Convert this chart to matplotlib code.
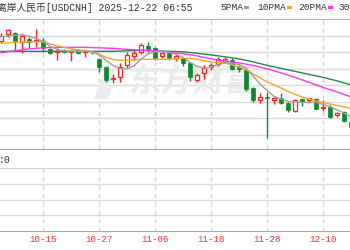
import numpy as np
import matplotlib
matplotlib.use("Agg")
import matplotlib.pyplot as plt
from matplotlib.patches import Rectangle, Polygon

# one candle per trading day, 10-07 .. 12-16 (x = 0 is 10-15)
days = ['10-07', '10-08', '10-09', '10-10', '10-13', '10-14', '10-15', '10-16', '10-17',
        '10-20', '10-21', '10-22', '10-23', '10-24', '10-27', '10-28', '10-29', '10-30',
        '10-31', '11-03', '11-04', '11-05', '11-06', '11-07', '11-10', '11-11', '11-12',
        '11-13', '11-14', '11-17', '11-18', '11-19', '11-20', '11-21', '11-24', '11-25',
        '11-26', '11-27', '11-28', '12-01', '12-02', '12-03', '12-04', '12-05', '12-08',
        '12-09', '12-10', '12-11', '12-12', '12-15', '12-16']
opens = [7.1336, 7.1417, 7.1433, 7.1320, 7.1357, 7.1336, 7.1336, 7.1235, 7.1197, 7.1219,
         7.1197, 7.1219, 7.1199, 7.1203, 7.1114, 7.1025, 7.0875, 7.0903, 7.1045, 7.1158,
         7.1199, 7.1275, 7.1248, 7.1158, 7.1187, 7.1134, 7.1126, 7.1066, 7.0863, 7.0948,
         7.1017, 7.1057, 7.1094, 7.1100, 7.1025, 7.0985, 7.0763, 7.0621, 7.0661, 7.0625,
         7.0642, 7.0581, 7.0488, 7.0633, 7.0621, 7.0633, 7.0520, 7.0540, 7.0439, 7.0472,
         7.0358]
closes = [7.1400, 7.1461, 7.1336, 7.1400, 7.1320, 7.1348, 7.1248, 7.1187, 7.1209, 7.1199,
          7.1209, 7.1187, 7.1211, 7.1195, 7.1025, 7.0863, 7.0891, 7.1025, 7.1166, 7.1194,
          7.1288, 7.1235, 7.1134, 7.1187, 7.1134, 7.1154, 7.1066, 7.0894, 7.0924, 7.1003,
          7.1039, 7.1112, 7.1112, 7.0991, 7.0997, 7.0754, 7.0621, 7.0661, 7.0642, 7.0642,
          7.0585, 7.0500, 7.0621, 7.0600, 7.0642, 7.0512, 7.0540, 7.0419, 7.0460, 7.0366,
          7.0297]
highs = [7.1429, 7.1482, 7.1445, 7.1433, 7.1388, 7.1482, 7.1369, 7.1255, 7.1251, 7.1239,
         7.1215, 7.1235, 7.1227, 7.1215, 7.1134, 7.1033, 7.0932, 7.1066, 7.1206, 7.1235,
         7.1308, 7.1320, 7.1267, 7.1206, 7.1215, 7.1187, 7.1146, 7.1085, 7.0945, 7.1045,
         7.1073, 7.1142, 7.1142, 7.1130, 7.1045, 7.1005, 7.0782, 7.0702, 7.0714, 7.0661,
         7.0702, 7.0600, 7.0633, 7.0649, 7.0649, 7.0649, 7.0621, 7.0560, 7.0479, 7.0488,
         7.0378]
lows = [7.1308, 7.1388, 7.1227, 7.1191, 7.1255, 7.1267, 7.1206, 7.1175, 7.1106, 7.1187,
        7.1094, 7.1175, 7.1146, 7.1179, 7.0964, 7.0843, 7.0823, 7.0843, 7.1005, 7.1106,
        7.1175, 7.1206, 7.1106, 7.1134, 7.1106, 7.1094, 7.1037, 7.0845, 7.0839, 7.0875,
        7.0985, 7.1033, 7.1066, 7.0979, 7.0964, 7.0730, 7.0600, 7.0581, 7.0157, 7.0569,
        7.0569, 7.0479, 7.0479, 7.0552, 7.0581, 7.0506, 7.0488, 7.0406, 7.0419, 7.0351,
        7.0282]
ma5 = [7.1388, 7.1393, 7.1403, 7.1409, 7.1391, 7.1366, 7.1328, 7.1269, 7.1233, 7.1215,
       7.1209, 7.1209, 7.1209, 7.1203, 7.1166, 7.1100, 7.1039, 7.0997, 7.0997, 7.1033,
       7.1112, 7.1179, 7.1203, 7.1209, 7.1197, 7.1172, 7.1136, 7.1075, 7.1027, 7.1003,
       7.1015, 7.1051, 7.1069, 7.1057, 7.1051, 7.1003, 7.0912, 7.0815, 7.0736, 7.0663,
       7.0633, 7.0603, 7.0597, 7.0591, 7.0591, 7.0591, 7.0566, 7.0542, 7.0500, 7.0463,
       7.0415]
ma10 = [7.1308, 7.1312, 7.1318, 7.1320, 7.1324, 7.1326, 7.1324, 7.1300, 7.1275, 7.1257,
        7.1239, 7.1227, 7.1215, 7.1203, 7.1179, 7.1136, 7.1112, 7.1100, 7.1100, 7.1106,
        7.1112, 7.1112, 7.1112, 7.1112, 7.1114, 7.1118, 7.1124, 7.1124, 7.1112, 7.1094,
        7.1081, 7.1075, 7.1069, 7.1045, 7.1021, 7.0985, 7.0936, 7.0888, 7.0839, 7.0803,
        7.0766, 7.0724, 7.0688, 7.0657, 7.0633, 7.0609, 7.0591, 7.0572, 7.0554, 7.0536,
        7.0518]
# 20 / 30 day lines read every second day
ma20 = [7.1191, 7.1215, 7.1239, 7.1251, 7.1257, 7.1257, 7.1257, 7.1251, 7.1245, 7.1233,
        7.1223, 7.1215, 7.1197, 7.1179, 7.1154, 7.1118, 7.1088, 7.1069, 7.1039, 7.0997,
        7.0948, 7.0894, 7.0833, 7.0772, 7.0718, 7.0657]
ma30 = [7.1209, 7.1209, 7.1209, 7.1209, 7.1209, 7.1209, 7.1209, 7.1209, 7.1209, 7.1215,
        7.1221, 7.1215, 7.1209, 7.1203, 7.1185, 7.1166, 7.1142, 7.1118, 7.1081, 7.1039,
        7.1003, 7.0966, 7.0930, 7.0894, 7.0851, 7.0803]
tick_labels = ['10-03', '10-15', '10-27', '11-06', '11-18', '11-28', '12-10']
tick_x = [-8, 0, 8, 16, 24, 32, 40]

UP = '#ff2020'
DOWN = '#0e8a2a'
mono_cjk = ['Liberation Mono', 'Noto Sans CJK SC']

x = np.arange(len(days)) - 6
x2 = x[::2]
xlim = (-43 / 7, 307 / 7)

fig = plt.figure(figsize=(3.5, 2.5), dpi=100)
ax = fig.add_axes([0, 0.404, 1, 0.52])
axv = fig.add_axes([0, 0.076, 1, 0.252])

for a in (ax, axv):
    a.set_xlim(*xlim)
    a.set_axisbelow(True)
    a.set_xticks([])
    a.tick_params(length=0, labelleft=False, labelbottom=False)
    a.spines['left'].set_visible(False)
    a.spines['right'].set_visible(False)
    a.spines['bottom'].set_color('#a8a8a8')
    for t in tick_x:
        a.axvline(t, color='#d4d4d4', lw=1, ls=(0, (3, 3)), zorder=0.5)

ax.set_ylim(7.0027, 7.16)
ax.set_yticks([7.02, 7.04, 7.06, 7.08, 7.10, 7.12, 7.14])
ax.grid(axis='y', color='#dadada', lw=1)
ax.spines['top'].set_color('#b4b4b4')

axv.set_ylim(0, 4)
axv.set_yticks([1, 2, 3])
axv.grid(axis='y', color='#dadada', lw=1)
axv.spines['top'].set_color('#d6d6d6')
# date labels under the lower panel, the first one runs off the left edge
for t, lab in zip(tick_x, tick_labels):
    axv.text(t, -9 / 63, lab, transform=axv.get_xaxis_transform(), ha='center',
             va='center', fontsize=6.6, color='#ff3030', family='Liberation Mono',
             clip_on=False)

# watermark (logo swoosh + name)
fx = lambda px: px / 350
fy = lambda py: 1 - py / 250
ax.add_patch(Polygon([(fx(94), fy(99)), (fx(104), fy(71)), (fx(116), fy(69)), (fx(107), fy(88)),
                      (fx(113), fy(86)), (fx(108), fy(99))], closed=True,
                     transform=fig.transFigure, facecolor='#ededed', edgecolor='none', zorder=0.6))
ax.text(fx(192), fy(83), '东方财富', transform=fig.transFigure, ha='center',
        va='center', fontsize=23, fontweight='bold', color='#ebebeb',
        family='Noto Sans CJK SC', zorder=0.6)

# candles
for xi, o, h, l, c in zip(x, opens, highs, lows, closes):
    col = UP if c >= o else DOWN
    ax.vlines(xi, l, h, color=col, lw=1, zorder=2)
    lo, hi = min(o, c), max(o, c)
    hgt = max(hi - lo, 0.0004)
    if c >= o:
        ax.add_patch(Rectangle((xi - 0.3, lo), 0.6, hgt, facecolor='white',
                               edgecolor=col, lw=0.9, zorder=3))
    else:
        ax.add_patch(Rectangle((xi - 0.32, lo), 0.64, hgt, facecolor=col,
                               edgecolor=col, lw=0.5, zorder=3))

ax.plot(x2, ma30, color='#23884a', lw=1, zorder=4)
ax.plot(x2, ma20, color='#ff33ff', lw=1, zorder=4)
ax.plot(x, ma10, color='#f5a623', lw=1, zorder=4)
ax.plot(x, ma5, color='#a0a0a0', lw=1, zorder=4)

# header
fig.text(fx(-3), fy(8), '离岸人民币[USDCNH] 2025-12-22 06:55', ha='left', va='center',
         fontsize=7, color='#333333', family=mono_cjk)
legend = [('5PMA', 220, '#a0a0a0'), ('10PMA', 257, '#f5a623'),
          ('20PMA', 298, '#ff33ff'), ('30PMA', 338, '#23884a')]
for name, px, col in legend:
    fig.text(fx(px), fy(7.5), name, ha='left', va='center', fontsize=6.8,
             color='#333333', family='Liberation Mono')
    w = len(name) * 5.75
    fig.patches.append(Rectangle((fx(px + w + 1), fy(9)), 5 / 350, 3 / 250,
                                 transform=fig.transFigure, facecolor=col, edgecolor='none'))

fig.text(fx(-1), fy(160), ':0', ha='left', va='center', fontsize=7,
         color='#333333', family='Liberation Mono')

fig.savefig('out.png', dpi=100)
